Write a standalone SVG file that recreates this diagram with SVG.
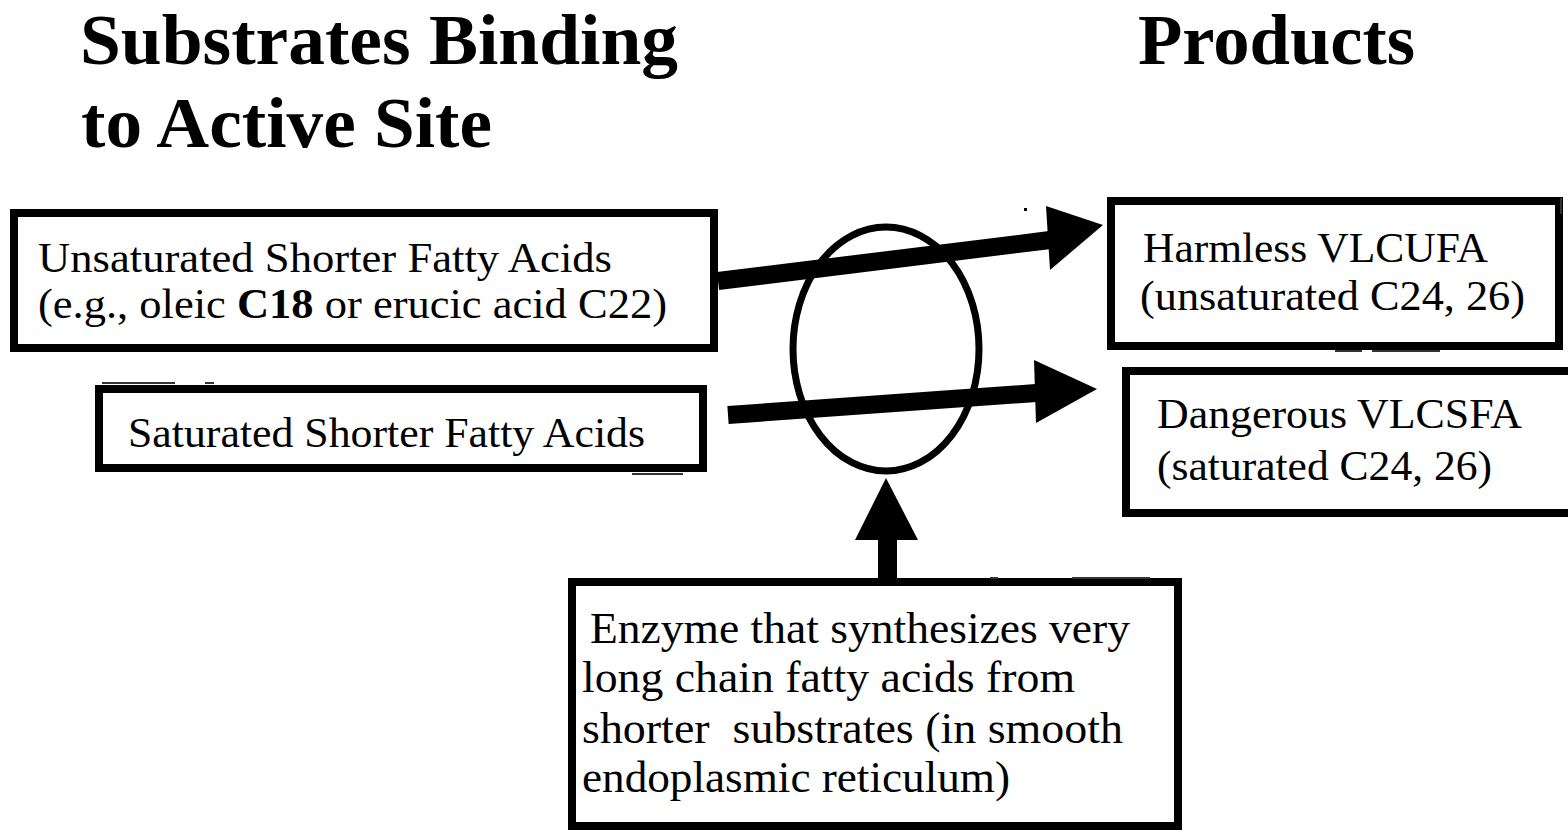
<svg xmlns="http://www.w3.org/2000/svg" width="1568" height="833" viewBox="0 0 1568 833">
  <style>
    .title { font-family: "Liberation Serif", "Times New Roman", serif; font-weight: bold; font-size: 72px; fill: #000; }
    .label { font-family: "Liberation Serif", "Times New Roman", serif; font-size: 42px; fill: #000; white-space: pre; }
    .label-lg { font-family: "Liberation Serif", "Times New Roman", serif; font-size: 44px; fill: #000; white-space: pre; }
    .box { fill: #fff; stroke: #000; stroke-width: 8; }
    .shaft { stroke: #000; stroke-width: 18; fill: none; }
    .head { fill: #000; }
    .speck { stroke: #333; stroke-width: 2; fill: none; }
  </style>

  <rect width="1568" height="833" fill="#fff"/>

  <!-- column headings -->
  <g id="heading-substrates">
    <text class="title" x="80" y="64" textLength="598" lengthAdjust="spacingAndGlyphs">Substrates Binding</text>
    <text class="title" x="81" y="147" textLength="411" lengthAdjust="spacingAndGlyphs">to Active Site</text>
  </g>
  <g id="heading-products">
    <text class="title" x="1138" y="64" textLength="277" lengthAdjust="spacingAndGlyphs">Products</text>
  </g>

  <!-- substrate: unsaturated -->
  <g id="node-unsaturated">
    <rect class="box" x="14" y="213" width="700" height="135"/>
    <text class="label" x="38" y="272" textLength="574" lengthAdjust="spacingAndGlyphs">Unsaturated Shorter Fatty Acids</text>
    <text class="label" x="38" y="318" textLength="629" lengthAdjust="spacingAndGlyphs">(e.g., oleic <tspan font-weight="bold">C18</tspan> or erucic acid C22)</text>
  </g>

  <!-- substrate: saturated -->
  <g id="node-saturated">
    <rect class="box" x="99" y="389" width="604" height="79"/>
    <text class="label" x="128" y="447" textLength="517" lengthAdjust="spacingAndGlyphs">Saturated Shorter Fatty Acids</text>
  </g>

  <!-- product: VLCUFA -->
  <g id="node-vlcufa">
    <rect class="box" x="1111" y="201" width="448" height="145"/>
    <text class="label" x="1143" y="262" textLength="345" lengthAdjust="spacingAndGlyphs">Harmless VLCUFA</text>
    <text class="label" x="1140" y="310" textLength="385" lengthAdjust="spacingAndGlyphs">(unsaturated C24, 26)</text>
  </g>

  <!-- product: VLCSFA -->
  <g id="node-vlcsfa">
    <rect class="box" x="1126" y="371" width="460" height="142"/>
    <text class="label" x="1157" y="428" textLength="365" lengthAdjust="spacingAndGlyphs">Dangerous VLCSFA</text>
    <text class="label" x="1157" y="480" textLength="335" lengthAdjust="spacingAndGlyphs">(saturated C24, 26)</text>
  </g>

  <!-- enzyme description -->
  <g id="node-enzyme">
    <rect class="box" x="572" y="582" width="606" height="244"/>
    <text class="label-lg" x="590" y="643" textLength="540" lengthAdjust="spacingAndGlyphs">Enzyme that synthesizes very</text>
    <text class="label-lg" x="582" y="692" textLength="493" lengthAdjust="spacingAndGlyphs">long chain fatty acids from</text>
    <text class="label-lg" x="582" y="743" textLength="541" lengthAdjust="spacingAndGlyphs">shorter  substrates (in smooth</text>
    <text class="label-lg" x="582" y="792" textLength="428" lengthAdjust="spacingAndGlyphs">endoplasmic reticulum)</text>
  </g>

  <!-- active site -->
  <g id="node-active-site">
    <ellipse cx="886" cy="349" rx="93" ry="122" fill="none" stroke="#000" stroke-width="7"/>
  </g>

  <!-- connectors -->
  <g id="connectors">
    <line class="shaft" x1="718" y1="281" x2="1050" y2="240"/>
    <polygon class="head" points="1046,206 1103,225 1050,270"/>

    <line class="shaft" x1="728" y1="415" x2="1036" y2="393"/>
    <polygon class="head" points="1034,360 1097,389 1036,423"/>

    <rect x="878" y="536" width="19" height="46" fill="#000"/>
    <polygon class="head" points="855,540 886,478 918,540"/>
  </g>

  <!-- small scan specks along box edges -->
  <g id="specks">
    <path class="speck" d="M102 383 H175 M205 383 H214"/>
    <path class="speck" d="M632 474 H683"/>
    <path class="speck" d="M1335 351 H1362 M1372 351 H1440"/>
    <path class="speck" d="M990 578 H998 M1072 578 H1150"/>
    <rect x="1024" y="208" width="3" height="3" fill="#000"/>
    <path class="speck" d="M1561 198 V214"/>
  </g>
</svg>
